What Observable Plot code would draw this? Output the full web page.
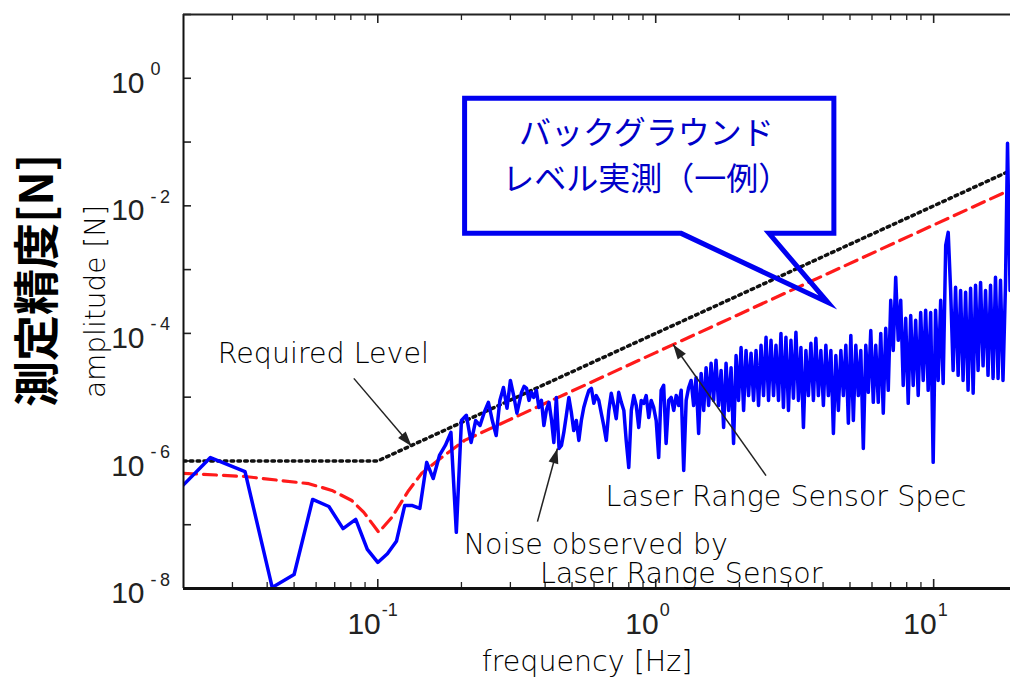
<!DOCTYPE html>
<html>
<head>
<meta charset="utf-8">
<script src="https://cdn.jsdelivr.net/npm/d3@7"></script>
<script src="https://cdn.jsdelivr.net/npm/@observablehq/plot@0.6"></script>
<style>
  html, body { margin: 0; padding: 0; background: #fff; }
  #chart svg { display: block; }
</style>
</head>
<body>
<div id="chart"></div>
<script>
// Axis extents: frequency in Hz, amplitude in N
const freqDomain = [0.02, 18.9];
const ampDomain = [1e-8, 10];

// Tick values and exponent labels
const xMajorTicks = [0.1, 1, 10];
const xMajorExps = ["-1", "0", "1"];
const xMinorTicks = [0.03, 0.04, 0.05, 0.06, 0.07, 0.08, 0.09,
                     0.2, 0.3, 0.4, 0.5, 0.6, 0.7, 0.8, 0.9,
                     2, 3, 4, 5, 6, 7, 8, 9];
const yDecadeTicks = [1e-8, 1e-7, 1e-6, 1e-5, 1e-4, 1e-3, 1e-2, 1e-1, 1, 10];
const yLabelTicks = [1, 1e-2, 1e-4, 1e-6, 1e-8];
const yLabelExps = ["0", "-\u20092", "-\u20094", "-\u20096", "-\u20098"];

// Required level
const reqFreq = [0.02, 0.1, 18.9];
const reqAmp = [1e-6, 1e-6, 3.57e-2];

// Laser range sensor specification
const specFreq = [0.02, 0.0333, 0.0565, 0.0684, 0.0806, 0.0891, 0.1008, 0.1123, 0.1292, 0.1439, 0.1697, 0.2053, 1, 18.9];
const specAmp = [6.4e-7, 5.7e-7, 4.4e-7, 3.45e-7, 2.4e-7, 1.56e-7, 7.6e-8, 1.3e-7, 3.45e-7, 6.4e-7, 1.13e-6, 2.1e-6, 5e-5, 1.79e-2];

// Measured background noise spectrum (Hz, N)
const noiseFreq = [
  0.0167, 0.025, 0.0333, 0.0417, 0.05, 0.0583, 0.0667, 0.075, 0.0833, 0.0917,
  0.1, 0.1083, 0.1167, 0.125, 0.1333, 0.1417, 0.15, 0.1583, 0.1667, 0.175,
  0.1833, 0.1917, 0.2, 0.2083, 0.2167, 0.225, 0.2333, 0.2417, 0.25, 0.2583,
  0.2667, 0.275, 0.2833, 0.2917, 0.3, 0.3083, 0.3167,
  0.329, 0.336, 0.343, 0.350,
  0.357, 0.364, 0.372, 0.380,
  0.388, 0.396, 0.404, 0.413,
  0.422, 0.430, 0.439, 0.449,
  0.458, 0.467, 0.477, 0.487,
  0.497, 0.507, 0.518, 0.529,
  0.540, 0.551, 0.563, 0.575,
  0.587, 0.599, 0.611, 0.624,
  0.637, 0.650, 0.664, 0.678,
  0.692, 0.707, 0.721, 0.736,
  0.752, 0.768, 0.783, 0.800,
  0.817, 0.834, 0.851, 0.869,
  0.887, 0.906, 0.924, 0.944,
  0.963, 0.983, 1.004, 1.025,
  1.046, 1.068, 1.090, 1.113,
  1.137, 1.161, 1.185, 1.210,
  1.235, 1.261, 1.287, 1.314,
  1.341, 1.369, 1.397, 1.427,
  1.457, 1.488, 1.518, 1.550,
  1.582, 1.615, 1.648, 1.683,
  1.719, 1.755, 1.791, 1.829,
  1.867, 1.906, 1.946, 1.986,
  2.028, 2.071, 2.113, 2.158,
  2.203, 2.249, 2.296, 2.344,
  2.393, 2.443, 2.494, 2.546,
  2.599, 2.654, 2.708, 2.765,
  2.822, 2.881, 2.941, 3.003,
  3.066, 3.130, 3.195, 3.262,
  3.330, 3.400, 3.470, 3.543,
  3.617, 3.693, 3.769, 3.848,
  3.929, 4.011, 4.094, 4.180,
  4.268, 4.358, 4.447, 4.541,
  4.636, 4.733, 4.831, 4.933,
  5.035, 5.141, 5.247, 5.357,
  5.469, 5.584, 5.699, 5.819,
  5.940, 6.065, 6.189, 6.320,
  6.452, 6.587, 6.723, 6.865,
  7.008, 7.155, 7.302, 7.457,
  7.612, 7.772, 7.932, 8.099,
  8.268, 8.442, 8.615, 8.797,
  8.981, 9.170, 9.358, 9.556,
  9.755, 9.960, 10.16, 10.38,
  10.60, 10.82, 11.05, 11.28,
  11.51, 11.75, 11.99, 12.25,
  12.50, 12.76, 13.03, 13.30,
  13.58, 13.87, 14.15, 14.45,
  14.75, 15.06, 15.37, 15.69,
  16.02, 16.36, 16.69, 17.05,
  17.40, 17.76, 18.13,
  18.44, 18.83
];
const noiseAmp = [
  1.9e-7, 1.13e-6, 6.8e-7, 1.04e-8, 1.66e-8, 2.49e-7, 1.93e-7, 8.7e-8, 1.21e-7, 4.1e-8,
  2.56e-8, 3.5e-8, 5.5e-8, 2.0e-7, 2.0e-7, 1.8e-7, 9.5e-7, 5.3e-7, 1.22e-6, 1.75e-6,
  2.8e-6, 7.6e-8, 4.3e-6, 5.2e-6, 1.95e-6, 4.3e-6, 3.6e-6, 5.8e-6, 8.3e-6, 4.3e-6,
  2.5e-6, 8.9e-6, 1.42e-5, 6.7e-6, 1.83e-5, 1.06e-5, 5.6e-6,
  1.19e-5, 1.48e-5, 1.37e-5, 8.9e-6,
  1.19e-5, 9.9e-6, 1.28e-5, 6.9e-6,
  8.9e-6, 3.6e-6, 6.2e-6, 8.3e-6,
  4.3e-6, 1.95e-6, 9.9e-6, 1.57e-6,
  1.75e-6, 2.8e-6, 5.2e-6, 9.9e-6,
  5.8e-6, 3.0e-6, 4.3e-6, 2.1e-6,
  4.3e-6, 6.9e-6, 9.6e-6, 1.28e-5,
  1.37e-5, 8.0e-6, 1.06e-5, 8.9e-6,
  5.6e-6, 3.6e-6, 2.1e-6, 6.2e-6,
  1.15e-5, 7.4e-6, 4.6e-6, 1.19e-5,
  8.3e-6, 6.2e-6, 2.1e-6, 7.9e-7,
  6.2e-6, 1.06e-5, 7.4e-6, 3.35e-6,
  8.9e-6, 8.0e-6, 1.06e-5, 4.8e-6,
  8.9e-6, 6.9e-6, 4.3e-6, 1.13e-6,
  1.28e-5, 1.53e-5, 1.88e-6, 8.9e-6,
  9.9e-6, 6.2e-6, 1.06e-5, 7.4e-6,
  1.28e-5, 7.1e-7, 8.9e-6, 1.42e-5,
  1.83e-5, 7.4e-6, 2.04e-5, 2.7e-6,
  2.36e-5, 6.2e-6, 2.9e-5, 7.4e-6,
  3.4e-5, 8.9e-6, 3.8e-5, 7.4e-6,
  2.63e-5, 3.35e-6, 3.4e-5, 6.2e-6,
  2.9e-5, 1.88e-6, 4.5e-5, 8.9e-6,
  6.0e-5, 6.2e-6, 5.4e-5, 1.06e-5,
  4.9e-5, 8.9e-6, 5.4e-5, 7.4e-6,
  6.5e-5, 1.06e-5, 8.7e-5, 8.9e-6,
  7.8e-5, 1.06e-5, 6.5e-5, 8.9e-6,
  1.0e-4, 6.9e-6, 8.7e-5, 6.2e-6,
  7.8e-5, 9.6e-6, 1.04e-4, 8.9e-6,
  6.0e-5, 3.35e-6, 5.4e-5, 1.06e-5,
  7.0e-5, 8.9e-6, 8.4e-5, 1.06e-5,
  5.4e-5, 7.4e-6, 6.5e-5, 1.06e-5,
  5.4e-5, 2.7e-6, 4.5e-5, 6.2e-6,
  5.4e-5, 1.06e-5, 6.5e-5, 3.9e-6,
  9.3e-5, 4.3e-6, 6.5e-5, 1.06e-5,
  5.4e-5, 1.57e-6, 6.5e-5, 1.19e-5,
  1.11e-4, 8.3e-6, 6.5e-5, 8.3e-6,
  1.0e-4, 5.6e-6, 1.2e-4, 1.28e-5,
  3.3e-4, 5.4e-5, 7.6e-4, 7.8e-5,
  3.3e-4, 1.53e-5, 1.72e-4, 8.0e-6,
  1.91e-4, 1.53e-5, 1.6e-4, 1.06e-5,
  2.13e-4, 1.83e-5, 2.3e-4, 1.28e-5,
  2.13e-4, 9.5e-7, 2.3e-4, 1.83e-5,
  3.3e-4, 1.64e-5, 2.4e-3, 3.84e-3,
  4.7e-4, 2.63e-5, 5.3e-4, 2.2e-5,
  4.7e-4, 1.83e-5, 4.4e-4, 1.28e-5,
  5.1e-4, 1.15e-5, 5.7e-4, 2.63e-5,
  6.3e-4, 3.1e-5, 4.7e-4, 2.2e-5,
  5.7e-4, 1.97e-5, 7.6e-4, 1.97e-5,
  6.8e-4, 1.83e-5, 5.7e-4,
  9.6e-2, 4.7e-4
];

// Annotation anchors, in data coordinates (Hz, N)
const notes = [
  {text: "Required Level", f: 0.0637, a: 4.8e-5},
  {text: "Laser Range Sensor Spec", f: 2.943, a: 2.73e-7},
  {text: "Noise observed by", f: 0.609, a: 4.83e-8},
  {text: "Laser Range Sensor", f: 1.235, a: 1.69e-8}
];
const pointers = [
  {f1: 0.082, a1: 1.97e-5, f2: 0.1324, a2: 1.7e-6},
  {f1: 2.494, a1: 5.9e-7, f2: 1.155, a2: 6.7e-5},
  {f1: 0.3754, a1: 1.12e-7, f2: 0.4429, a2: 1.57e-6}
];
const calloutLines = [
  {text: "バックグラウンド", f: 0.925, a: 0.137},
  {text: "レベル実測（一例）", f: 0.925, a: 0.026}
];
const calloutShape = {
  f: [0.2053, 4.375, 4.375, 2.556, 4.16, 1.235, 0.2053, 0.2053, 4.375],
  a: [0.485, 0.485, 3.7e-3, 3.7e-3, 3.06e-4, 3.7e-3, 3.7e-3, 0.485, 0.485]
};

const zip = (xs, ys) => xs.map((f, i) => ({f, a: ys[i]}));
const noise = zip(noiseFreq, noiseAmp);
const spec = zip(specFreq, specAmp);
const required = zip(reqFreq, reqAmp);
const callout = zip(calloutShape.f, calloutShape.a);
const xLabels = xMajorTicks.map((v, i) => ({v, e: xMajorExps[i]}));
const yLabels = yLabelTicks.map((v, i) => ({v, e: yLabelExps[i]}));

// Filled triangular arrowhead
const arrowHead = (color) => {
  const m = d3.create("svg:marker")
    .attr("viewBox", "-16 -8 17 16")
    .attr("markerWidth", 17)
    .attr("markerHeight", 16)
    .attr("markerUnits", "userSpaceOnUse")
    .attr("refX", 0)
    .attr("refY", 0)
    .attr("orient", "auto");
  m.append("path").attr("d", "M0,0L-15,-5L-15,5Z").attr("fill", color).attr("stroke", "none");
  const node = m.node();
  node.node = () => node;
  return node;
};

const W = 1010, H = 678;
const margin = {left: 183, right: 0, top: 14, bottom: 90};
const frameW = W - margin.left - margin.right;
const frameH = H - margin.top - margin.bottom;

const latin = "DejaVu Sans";
const digits = "Liberation Sans";
const cjk = "Noto Sans CJK JP";

const chart = Plot.plot({
  width: W,
  height: H,
  marginLeft: margin.left,
  marginRight: margin.right,
  marginTop: margin.top,
  marginBottom: margin.bottom,
  style: {background: "#fff", color: "#111"},
  x: {type: "log", domain: freqDomain, axis: null},
  y: {type: "log", domain: ampDomain, axis: null},
  marks: [
    // inward ticks on bottom, top and left edges
    Plot.tickX(xMinorTicks, {x: d => d, insetTop: frameH - 6, stroke: "#222", strokeWidth: 1.3}),
    Plot.tickX(xMajorTicks, {x: d => d, insetTop: frameH - 9, stroke: "#222", strokeWidth: 1.6}),
    Plot.tickX(xMinorTicks, {x: d => d, insetBottom: frameH - 6, stroke: "#222", strokeWidth: 1.3}),
    Plot.tickX(xMajorTicks, {x: d => d, insetBottom: frameH - 9, stroke: "#222", strokeWidth: 1.6}),
    Plot.tickY(yDecadeTicks, {y: d => d, insetRight: frameW - 8, stroke: "#222", strokeWidth: 1.6}),

    // reference curves
    Plot.line(required, {x: "f", y: "a", stroke: "#111", strokeWidth: 3.5, strokeDasharray: "2.6,4.2", clip: true}),
    Plot.line(spec, {x: "f", y: "a", stroke: "#ff1a1a", strokeWidth: 3.2, strokeDasharray: "13,7", clip: true}),
    // measured noise
    Plot.line(noise, {x: "f", y: "a", stroke: "#0000ff", strokeWidth: 3.5, strokeLinejoin: "round", clip: true}),

    // plot frame (left, bottom, top)
    Plot.ruleX([freqDomain[0]], {stroke: "#111", strokeWidth: 2}),
    Plot.ruleY([ampDomain[0]], {stroke: "#111", strokeWidth: 3}),
    Plot.ruleY([ampDomain[1]], {stroke: "#222", strokeWidth: 2}),

    // tick labels as 10 with a raised exponent
    Plot.text(xLabels, {x: "v", frameAnchor: "bottom", text: () => "10", textAnchor: "end", lineAnchor: "bottom",
      dx: 3, dy: 45, fontSize: 30, fontFamily: digits, fill: "#222"}),
    Plot.text(xLabels, {x: "v", frameAnchor: "bottom", text: "e", textAnchor: "start", lineAnchor: "bottom",
      dx: 4, dy: 27, fontSize: 18, fontFamily: digits, fill: "#222"}),
    Plot.text(yLabels, {y: "v", frameAnchor: "left", text: () => "10", textAnchor: "end", lineAnchor: "middle",
      dx: -39, dy: 5, fontSize: 30, fontFamily: digits, fill: "#222"}),
    Plot.text(yLabels, {y: "v", frameAnchor: "left", text: "e", textAnchor: "start", lineAnchor: "bottom",
      dx: -33, dy: -3, fontSize: 18, fontFamily: digits, fill: "#222"}),

    // axis titles
    Plot.text(["frequency [Hz]"], {frameAnchor: "bottom", text: d => d, textAnchor: "middle", lineAnchor: "bottom",
      dx: -10, dy: 82, fontSize: 28.5, fontWeight: 300, fontFamily: latin, fill: "#000"}),
    Plot.text(["amplitude [N]"], {frameAnchor: "left", text: d => d, rotate: -90, textAnchor: "middle", lineAnchor: "middle",
      dx: -87, dy: 0, fontSize: 28, fontWeight: 300, fontFamily: latin, fill: "#000"}),
    Plot.text(["測定精度[N]"], {frameAnchor: "left", text: d => d, rotate: -90, textAnchor: "middle", lineAnchor: "middle",
      dx: -145, dy: -21, fontSize: 46, fontWeight: "bold", fontFamily: cjk, fill: "#000"}),

    // annotations
    Plot.link(pointers, {x1: "f1", y1: "a1", x2: "f2", y2: "a2", stroke: "#222", strokeWidth: 1.5, markerEnd: arrowHead}),
    Plot.text(notes, {x: "f", y: "a", text: "text", lineAnchor: "middle", textAnchor: "middle",
      fontSize: 28.5, fontWeight: 300, fontFamily: latin, fill: "#000"}),

    // callout bubble
    Plot.line(callout, {x: "f", y: "a", stroke: "#0000f0", strokeWidth: 5, strokeLinejoin: "miter", strokeMiterlimit: 12}),
    Plot.text(calloutLines, {x: "f", y: "a", text: "text", lineAnchor: "middle", textAnchor: "middle",
      fontSize: 32, fontFamily: cjk, fill: "#0000c8"})
  ]
});

document.getElementById("chart").append(chart);
</script>
</body>
</html>
